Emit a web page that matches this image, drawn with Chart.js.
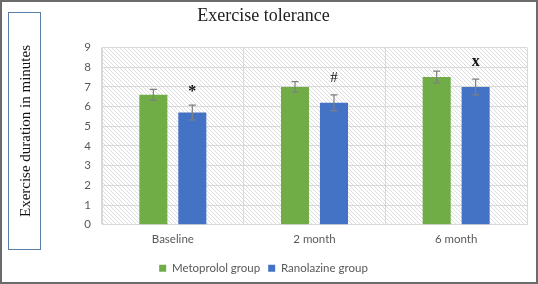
<!DOCTYPE html>
<html><head><meta charset="utf-8">
<script src="https://cdn.jsdelivr.net/npm/chart.js@4/dist/chart.umd.min.js"></script>
<style>
html,body{margin:0;padding:0;background:#fff;}
#wrap{position:relative;width:538px;height:284px;box-sizing:border-box;border:2px solid #6b6b6b;overflow:hidden;}
#c{position:absolute;left:-2px;top:-2px;}
#ybox{position:absolute;left:6px;top:10px;width:33px;height:238px;border:1.5px solid #5a7ea8;box-sizing:border-box;}
#ytitle{position:absolute;left:50%;top:50%;transform:translate(-50%,-50%) rotate(-90deg);white-space:nowrap;font:15px "Liberation Serif","DejaVu Serif",serif;color:#111;}
</style></head>
<body>
<div id="wrap">
<canvas id="c" width="538" height="284"></canvas>
<div id="ybox"><div id="ytitle">Exercise duration in minutes</div></div>
</div>
<script>
const categories = ["Baseline", "2 month", "6 month"];
const seriesNames = ["Metoprolol group", "Ranolazine group"];
const metoprolol = [6.6, 7.0, 7.5];
const ranolazine = [5.7, 6.2, 7.0];
const metoprololErr = [0.28, 0.27, 0.3];
const ranolazineErr = [0.38, 0.4, 0.4];
const significance = ["*", "#", "x"];
const yTicks = [0, 1, 2, 3, 4, 5, 6, 7, 8, 9];

const errors = [metoprololErr, ranolazineErr];

function hatchPattern(ctx){
  const p = document.createElement('canvas');
  p.width = 4; p.height = 4;
  const g = p.getContext('2d');
  g.fillStyle = '#ffffff'; g.fillRect(0,0,4,4);
  g.strokeStyle = '#d4d4d4'; g.lineWidth = 0.8;
  g.beginPath();
  g.moveTo(0,0); g.lineTo(4,4);
  g.moveTo(-1,3); g.lineTo(1,5);
  g.moveTo(3,-1); g.lineTo(5,1);
  g.stroke();
  return ctx.createPattern(p,'repeat');
}

const bgPlugin = {
  id:'bgHatch',
  beforeDraw(chart){
    const {ctx, chartArea:a} = chart;
    ctx.save();
    ctx.fillStyle = hatchPattern(ctx);
    ctx.fillRect(a.left, a.top, a.right-a.left, a.bottom-a.top);
    ctx.restore();
  }
};

const errPlugin = {
  id:'errBars',
  afterDatasetsDraw(chart){
    const {ctx} = chart;
    const y = chart.scales.y;
    ctx.save();
    ctx.strokeStyle = '#7f7f7f';
    ctx.lineWidth = 1.2;
    chart.data.datasets.forEach((ds, di) => {
      const meta = chart.getDatasetMeta(di);
      meta.data.forEach((bar, i) => {
        const v = ds.data[i], e = errors[di][i];
        const x = bar.x;
        const yt = y.getPixelForValue(v + e), yb = y.getPixelForValue(v - e);
        ctx.beginPath();
        ctx.moveTo(x, yt); ctx.lineTo(x, yb);
        ctx.moveTo(x-3.5, yt); ctx.lineTo(x+3.5, yt);
        ctx.moveTo(x-3.5, yb); ctx.lineTo(x+3.5, yb);
        ctx.stroke();
      });
    });
    const meta = chart.getDatasetMeta(1);
    ctx.fillStyle = '#111';
    ctx.textAlign = 'center';
    ctx.textBaseline = 'middle';
    meta.data.forEach((bar, i) => {
      const top = y.getPixelForValue(ranolazine[i] + ranolazineErr[i]);
      const s = significance[i];
      ctx.font = (s === '#') ? '15px "Liberation Serif", serif' : 'bold 16px "Liberation Serif", serif';
      ctx.fillText(s, bar.x, top - (s === '*' ? 13 : 17));
    });
    ctx.restore();
  }
};

new Chart(document.getElementById('c'), {
  type:'bar',
  data:{
    labels: categories,
    datasets:[
      {label: seriesNames[0], data: metoprolol, backgroundColor:'#70AD47', borderWidth:0},
      {label: seriesNames[1], data: ranolazine, backgroundColor:'#4472C4', borderWidth:0}
    ]
  },
  options:{
    responsive:false,
    animation:false,
    devicePixelRatio:1,
    categoryPercentage:0.55,
    barPercentage:0.72,
    layout:{padding:{left:0, right:11, top:0, bottom:0}},
    plugins:{
      title:{display:true, text:'Exercise tolerance', color:'#222',
        font:{family:'"Liberation Serif", serif', size:18, weight:'normal'},
        padding:{top:5, bottom:21}},
      legend:{position:'bottom',
        labels:{boxWidth:7, boxHeight:7, color:'#595959', padding:8,
          font:{family:'Lato, sans-serif', size:11.5}}},
      tooltip:{enabled:false}
    },
    scales:{
      x:{
        grid:{color:'#d9d9d9', offset:true, drawTicks:false, lineWidth:1},
        border:{color:'#d9d9d9'},
        ticks:{color:'#595959', padding:8, font:{family:'Lato, sans-serif', size:11.5}}
      },
      y:{
        min:0, max:9,
        afterFit(s){ s.width = 102; },
        afterBuildTicks(s){ s.ticks = yTicks.map(v => ({value:v})); },
        grid:{color:'#d9d9d9', drawTicks:false, lineWidth:1},
        border:{color:'#d9d9d9'},
        ticks:{color:'#595959', padding:11, font:{family:'Lato, sans-serif', size:11.5}}
      }
    }
  },
  plugins:[bgPlugin, errPlugin]
});
</script>
</body></html>
